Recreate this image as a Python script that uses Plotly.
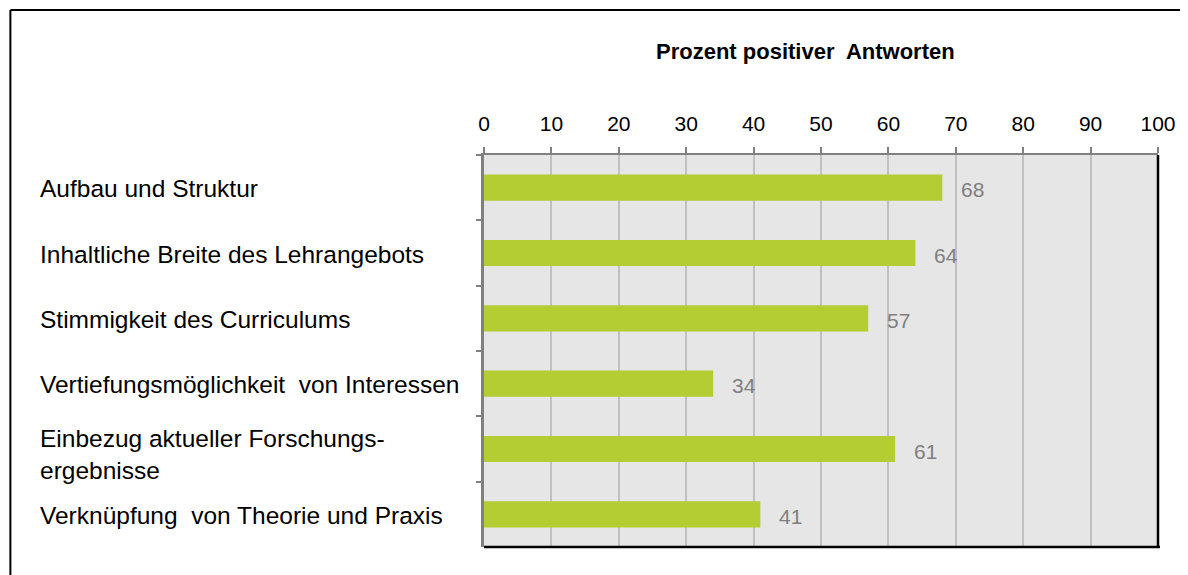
import plotly.graph_objects as go

kategorien = [
    "Aufbau und Struktur",
    "Inhaltliche Breite des Lehrangebots",
    "Stimmigkeit des Curriculums",
    "Vertiefungsmöglichkeit  von Interessen",
    "Einbezug aktueller Forschungs-<br>ergebnisse",
    "Verknüpfung  von Theorie und Praxis",
]
werte = [68, 64, 57, 34, 61, 41]
ticks_x = [0, 10, 20, 30, 40, 50, 60, 70, 80, 90, 100]

schrift = "Liberation Sans, Arial, sans-serif"

fig = go.Figure()
fig.add_trace(go.Bar(
    x=werte,
    y=kategorien,
    orientation="h",
    marker=dict(color="#b3cd33", line=dict(width=0)),
    hoverinfo="skip",
))

# Beschriftungen links (linksbündig) und Werte rechts neben den Balken
for kat, w in zip(kategorien, werte):
    zweizeilig = "<br>" in kat
    fig.add_annotation(x=-0.6617, xref="paper", y=kat, yref="y", text=kat,
                       xanchor="left", yanchor="middle", align="left", showarrow=False,
                       yshift=-5 if zweizeilig else -1,
                       font=dict(family=schrift, size=24.5, color="#000000"))
    fig.add_annotation(x=w, xref="x", y=kat, yref="y", text=str(w),
                       xanchor="left", yanchor="middle", xshift=17, yshift=-2, showarrow=False,
                       font=dict(family=schrift, size=21, color="#7f7f7f"))

fig.add_annotation(x=0.477, xref="paper", y=1.263, yref="paper",
                   text="<b>Prozent positiver  Antworten</b>", showarrow=False,
                   xanchor="center", yanchor="middle",
                   font=dict(family=schrift, size=22, color="#000000"))

# Rahmen um das Diagramm (nur oben und links sichtbar)
fig.add_shape(type="line", xref="paper", yref="paper", x0=-0.7027, x1=-0.7027, y0=-0.2, y1=1.370,
              line=dict(color="#000000", width=2))
fig.add_shape(type="line", xref="paper", yref="paper", x0=-0.7027, x1=1.2, y0=1.370, y1=1.370,
              line=dict(color="#000000", width=2))
# dunkle Kanten rechts und unten am Plotbereich
fig.add_shape(type="line", xref="paper", yref="paper", x0=0, x1=1.003, y0=0, y1=0,
              line=dict(color="#000000", width=2.5))
fig.add_shape(type="line", xref="paper", yref="paper", x0=1, x1=1, y0=0, y1=1,
              line=dict(color="#000000", width=2.5))

# Seite hat 8px Rand, daher Figur um 8px kleiner
fig.update_layout(
    width=1180,
    height=567,
    margin=dict(l=476, r=28, t=147, b=28),
    paper_bgcolor="#ffffff",
    plot_bgcolor="#e6e6e6",
    showlegend=False,
    bargap=0.6,
    font=dict(family=schrift, size=21, color="#000000"),
    xaxis=dict(
        side="top",
        range=[0, 100],
        tickvals=ticks_x,
        ticks="outside",
        ticklen=6,
        tickwidth=2,
        tickcolor="#808080",
        ticklabelstandoff=8,
        showline=True,
        linecolor="#808080",
        linewidth=2,
        showgrid=True,
        gridcolor="#c0c0c0",
        gridwidth=2,
        zeroline=False,
        tickfont=dict(family=schrift, size=21, color="#000000"),
        fixedrange=True,
    ),
    yaxis=dict(
        autorange="reversed",
        showticklabels=False,
        ticks="outside",
        tickson="boundaries",
        ticklen=5,
        tickwidth=2,
        tickcolor="#808080",
        showline=True,
        linecolor="#808080",
        linewidth=3,
        showgrid=False,
        zeroline=False,
        fixedrange=True,
    ),
)

fig.write_html("out.html")
